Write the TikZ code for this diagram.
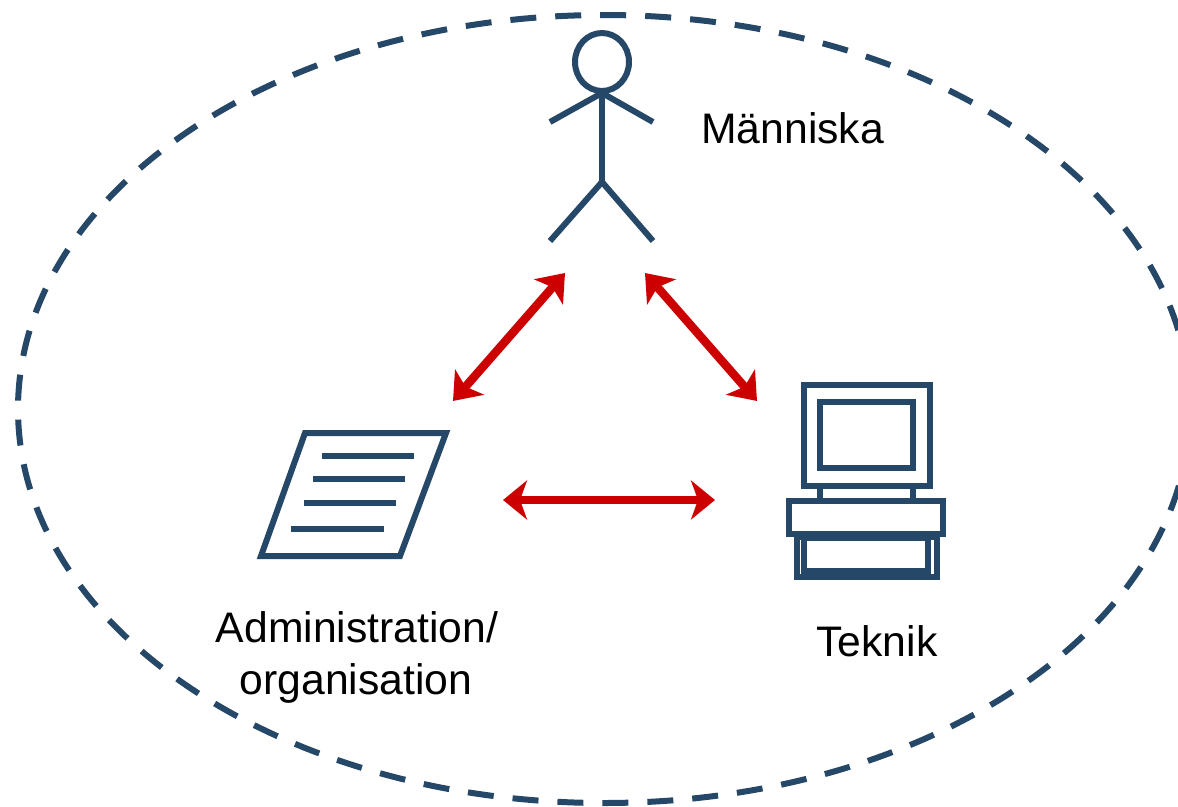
\documentclass[tikz,border=0pt]{standalone}
\usepackage{fontspec}
\setmainfont{Liberation Sans}
\usetikzlibrary{arrows.meta}
\definecolor{navy}{HTML}{254768}
\definecolor{arrowred}{HTML}{CC0000}
\tikzset{
  icon/.style={draw=navy, line width=6pt},
  label/.style={font=\fontsize{42.7}{52}\selectfont, inner sep=0pt, align=center},
  link/.style={draw=arrowred, line width=8.5pt, {Stealth[length=25pt,width=38pt,inset=6pt]}-{Stealth[length=25pt,width=38pt,inset=6pt]}},
  flatlink/.style={draw=arrowred, line width=7.5pt, {Stealth[length=24pt,width=39pt,inset=7pt]}-{Stealth[length=24pt,width=39pt,inset=7pt]}}
}
\begin{document}
\begin{tikzpicture}
  [x=1pt,y=-1pt]
  \useasboundingbox (0,0) rectangle (1178,806);

  % outer boundary
  \draw[icon, dash pattern=on 26pt off 19pt, dash phase=10pt] (604,409) ellipse (586pt and 394pt);

  % person
  \draw[icon] (602,62) ellipse (27pt and 29pt);
  \coordinate (neck) at (602,93);
  \coordinate (hip) at (602,182);
  \draw[icon] (neck) -- (hip);
  \draw[icon] (550,122) -- (neck) -- (653,122);
  \draw[icon] (550,241) -- (hip) -- (653,241);

  % paper
  \draw[icon] (305,433) -- (446,433) -- (400,556) -- (261,556) -- cycle;
  \draw[icon] (322,456) -- (414,456);
  \draw[icon] (313,479) -- (405,479);
  \draw[icon] (304,503) -- (396,503);
  \draw[icon] (291,529) -- (384,529);

  % computer
  \draw[icon] (797,537) rectangle (937,577);
  \draw[icon] (804.3,538) rectangle (928,570.5);
  \draw[icon] (820,486) -- (820,500);
  \draw[icon] (913,486) -- (913,500);
  \draw[icon, fill=white] (789,500.5) rectangle (943,534);
  \draw[icon] (804,385) rectangle (930,486);
  \draw[icon] (820,402) rectangle (913,468);

  \node[label, anchor=base west] (manniska) at (701,143) {Människa};
  \node[label, anchor=base] (teknik) at (877,656) {Teknik};
  \node[label, anchor=base] (admin) at (357,642) {Administration/};
  \node[label, anchor=base] (org) at (356,694) {organisation};

  \coordinate (a1) at (565,273);
  \coordinate (a2) at (453,401);
  \coordinate (b1) at (645,273);
  \coordinate (b2) at (757,401);
  \coordinate (c1) at (503,500);
  \coordinate (c2) at (715,500);

  \foreach \from/\to in {a1/a2,b1/b2}
    \draw[link] (\from) -- (\to);
  \draw[flatlink] (c1) -- (c2);

\end{tikzpicture}
\end{document}
